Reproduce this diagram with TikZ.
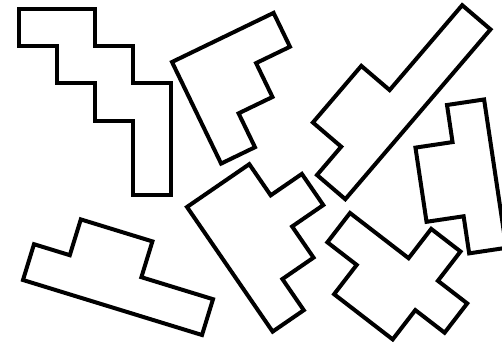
\documentclass[tikz,border=0pt]{standalone}
\begin{document}
\begin{tikzpicture}[piece/.style={draw=black, line width=4pt, line join=miter}]
\useasboundingbox (0pt,0pt) rectangle (502pt,-347pt);
\clip (0pt,0pt) rectangle (502pt,-347pt);
% staircase, top left
\begin{scope}[shift={(19pt,-9pt)}, x={(38pt,0pt)}, y={(0pt,-37.2pt)}]
\draw[piece] (0,0) -- (2,0) -- (2,1) -- (3,1) -- (3,2) -- (4,2) -- (4,5) -- (3,5) -- (3,3) -- (2,3) -- (2,2) -- (1,2) -- (1,1) -- (0,1) -- cycle;
\end{scope}
% F-like piece
\begin{scope}[shift={(172pt,-62pt)}, x={(33.86pt,16.37pt)}, y={(16.37pt,-33.86pt)}]
\draw[piece] (0,0) -- (3,0) -- (3,1) -- (2,1) -- (2,2) -- (1,2) -- (1,3) -- (0,3) -- cycle;
\end{scope}
% long bar with bump
\begin{scope}[shift={(317pt,-175pt)}, x={(24.2pt,28.3pt)}, y={(28.3pt,-24.2pt)}]
\draw[piece] (0,0) -- (1,0) -- (1,-1) -- (3,-1) -- (3,0) -- (6,0) -- (6,1) -- (0,1) -- cycle;
\end{scope}
% right piece (cut by edge)
\begin{scope}[shift={(447pt,-105pt)}, x={(37.09pt,5.54pt)}, y={(5.54pt,-37.09pt)}]
\draw[piece] (0,0) -- (1,0) -- (1,4) -- (0,4) -- (0,3) -- (-1,3) -- (-1,1) -- (0,1) -- cycle;
\end{scope}
% bottom left piece
\begin{scope}[shift={(23pt,-280pt)}, x={(35.8pt,-11pt)}, y={(11pt,35.8pt)}]
\draw[piece] (0,0) -- (5,0) -- (5,1) -- (3,1) -- (3,2) -- (1,2) -- (1,1) -- (0,1) -- cycle;
\end{scope}
% middle bottom piece
\begin{scope}[shift={(187pt,-207pt)}, x={(31.15pt,21.41pt)}, y={(21.41pt,-31.15pt)}]
\draw[piece] (0,0) -- (2,0) -- (2,1) -- (3,1) -- (3,2) -- (2,2) -- (2,3) -- (1,3) -- (1,4) -- (0,4) -- cycle;
\end{scope}
% cross-like piece
\begin{scope}[shift={(350pt,-213pt)}, x={(29.3pt,-22.6pt)}, y={(22.6pt,29.3pt)}]
\draw[piece] (0,0) -- (2,0) -- (2,1) -- (3,1) -- (3,0) -- (4,0) -- (4,-1) -- (3,-1) -- (3,-2) -- (1,-2) -- (1,-1) -- (0,-1) -- cycle;
\end{scope}
\end{tikzpicture}
\end{document}
